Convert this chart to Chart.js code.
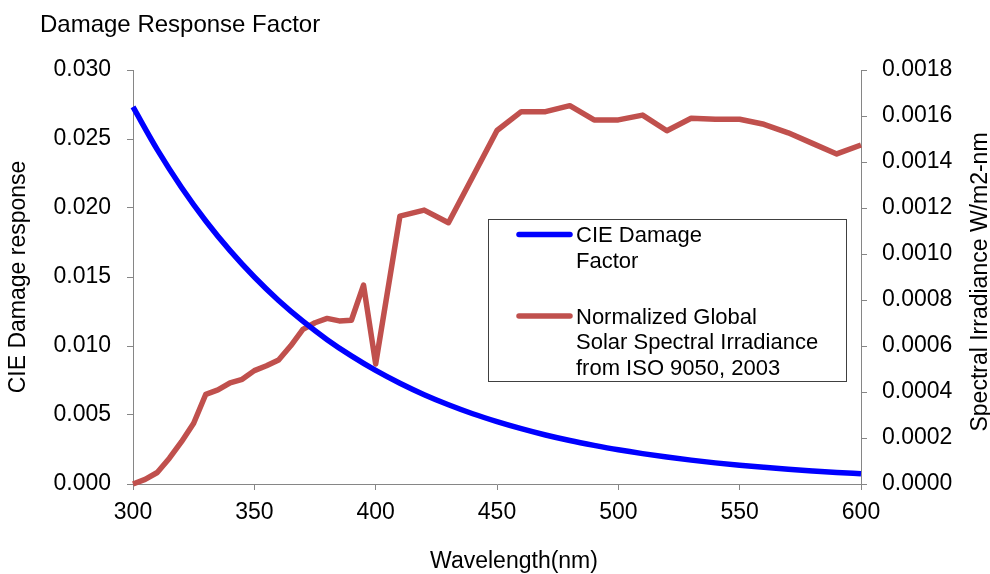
<!DOCTYPE html>
<html>
<head>
<meta charset="utf-8">
<script src="https://cdn.jsdelivr.net/npm/chart.js@4"></script>
<style>
  html, body { margin: 0; padding: 0; background: #fff; }
  #c { display: block; }
</style>
</head>
<body>
<canvas id="c" width="990" height="574"></canvas>
<script>
// ---- data ----
const chartTitle = 'Damage Response Factor';
const xTitle = 'Wavelength(nm)';
const yLeftTitle = 'CIE Damage response';
const yRightTitle = 'Spectral Irradiance W/m2-nm';

const cieLegendLines = ['CIE Damage', 'Factor'];
const solarLegendLines = ['Normalized Global', 'Solar Spectral Irradiance', 'from ISO 9050, 2003'];

const cieWavelengths = [300,310,320,330,340,350,360,370,380,390,400,410,420,430,440,450,460,470,480,490,500,510,520,530,540,550,560,570,580,590,600];
const cieValues = [0.02732,0.02423,0.02149,0.01906,0.01691,0.01500,0.01330,0.01180,0.01046,0.00928,0.00823,0.00730,0.00647,0.00574,0.00509,0.00452,0.00401,0.00355,0.00315,0.00280,0.00248,0.00220,0.00195,0.00173,0.00153,0.00136,0.00121,0.00107,0.00095,0.00084,0.00075];

const solarWavelengths = [300,305,310,315,320,325,330,335,340,345,350,355,360,365,370,375,380,385,390,395,400,410,420,430,440,450,460,470,480,490,500,510,520,530,540,550,560,570,580,590,600];
const solarValues = [0,0.00002,0.00005,0.000112,0.000184,0.000264,0.00039,0.000409,0.00044,0.000455,0.000493,0.000514,0.000539,0.000601,0.000672,0.000701,0.00072,0.000709,0.000712,0.000865,0.000522,0.001165,0.001191,0.001136,0.001336,0.001537,0.001619,0.001619,0.001645,0.001583,0.001583,0.001604,0.001536,0.00159,0.001586,0.001586,0.001564,0.001527,0.001481,0.001435,0.001474];

const xTicks = [300,350,400,450,500,550,600];

// ---- styling ----
const FONT = "'Liberation Sans', Arial, sans-serif";
const AXIS_GREY = '#868686';
const BLUE = '#0000FF';
const RED = '#C0504D';

const toPoints = (xs, ys) => xs.map((x, i) => ({ x: x, y: ys[i] }));

const extrasPlugin = {
  id: 'extras',
  afterDraw(chart) {
    const ctx = chart.ctx;
    ctx.save();
    // chart title
    ctx.fillStyle = '#000';
    ctx.font = '24px ' + FONT;
    ctx.textAlign = 'left';
    ctx.textBaseline = 'alphabetic';
    ctx.fillText(chartTitle, 40, 32);

    // x axis title
    ctx.font = '23px ' + FONT;
    ctx.textAlign = 'center';
    ctx.fillText(xTitle, 514, 568);

    // right axis title (reads bottom-to-top)
    ctx.save();
    ctx.font = '23px ' + FONT;
    ctx.translate(987, 282);
    ctx.rotate(-Math.PI / 2);
    ctx.textAlign = 'center';
    ctx.textBaseline = 'alphabetic';
    ctx.fillText(yRightTitle, 0, 0);
    ctx.restore();

    // legend box
    ctx.strokeStyle = '#404040';
    ctx.lineWidth = 1;
    ctx.strokeRect(488.5, 219.5, 358, 162);
    const ds = chart.data.datasets;
    const entries = [
      { color: ds[0].borderColor, lines: cieLegendLines, lineY: 234.5, base: 242 },
      { color: ds[1].borderColor, lines: solarLegendLines, lineY: 316, base: 323.5 }
    ];
    ctx.font = '22px ' + FONT;
    ctx.fillStyle = '#000';
    ctx.textAlign = 'left';
    ctx.textBaseline = 'alphabetic';
    entries.forEach(e => {
      ctx.beginPath();
      ctx.strokeStyle = e.color;
      ctx.lineWidth = 5.5;
      ctx.lineCap = 'round';
      ctx.moveTo(519, e.lineY);
      ctx.lineTo(570, e.lineY);
      ctx.stroke();
      e.lines.forEach((t, i) => ctx.fillText(t, 576, e.base + i * 25.5));
    });
    ctx.restore();
  }
};

new Chart(document.getElementById('c'), {
  type: 'line',
  data: {
    datasets: [
      {
        label: cieLegendLines.join(' '),
        data: toPoints(cieWavelengths, cieValues),
        yAxisID: 'y',
        borderColor: BLUE,
        backgroundColor: BLUE,
        borderWidth: 5.5,
        pointRadius: 0,
        cubicInterpolationMode: 'monotone',
        clip: false
      },
      {
        label: solarLegendLines.join(' '),
        data: toPoints(solarWavelengths, solarValues),
        yAxisID: 'y1',
        borderColor: RED,
        backgroundColor: RED,
        borderWidth: 5.5,
        pointRadius: 0,
        tension: 0,
        borderJoinStyle: 'round',
        clip: false
      }
    ]
  },
  options: {
    responsive: false,
    animation: false,
    devicePixelRatio: 1,
    layout: { padding: { top: 70, left: 0, right: 0, bottom: 0 } },
    plugins: {
      legend: { display: false },
      title: { display: false },
      tooltip: { enabled: false }
    },
    scales: {
      x: {
        type: 'linear',
        min: 300, max: 600,
        afterBuildTicks: (s) => { s.ticks = xTicks.map(v => ({ value: v })); },
        afterFit: (s) => { s.height = 90; },
        ticks: { font: { size: 23, family: FONT }, color: '#000', padding: 9, maxRotation: 0 },
        grid: { drawOnChartArea: false, drawTicks: true, tickLength: 6, color: AXIS_GREY },
        border: { display: true, color: AXIS_GREY, width: 1 }
      },
      y: {
        position: 'left',
        min: 0, max: 0.03,
        afterFit: (s) => { s.width = 133; },
        ticks: { stepSize: 0.005, font: { size: 23, family: FONT }, color: '#000', padding: 16,
                 callback: (v) => Number(v).toFixed(3) },
        grid: { drawOnChartArea: false, drawTicks: true, tickLength: 6, color: AXIS_GREY },
        border: { display: true, color: AXIS_GREY, width: 1 },
        title: { display: true, text: yLeftTitle, font: { size: 23, family: FONT }, color: '#000', padding: { top: 5, bottom: 0 } }
      },
      y1: {
        position: 'right',
        min: 0, max: 0.0018,
        afterFit: (s) => { s.width = 129; },
        ticks: { stepSize: 0.0002, font: { size: 23, family: FONT }, color: '#000', padding: 15,
                 callback: (v) => Number(v).toFixed(4) },
        grid: { drawOnChartArea: false, drawTicks: true, tickLength: 6, color: AXIS_GREY },
        border: { display: true, color: AXIS_GREY, width: 1 }
      }
    }
  },
  plugins: [extrasPlugin]
});
</script>
</body>
</html>
